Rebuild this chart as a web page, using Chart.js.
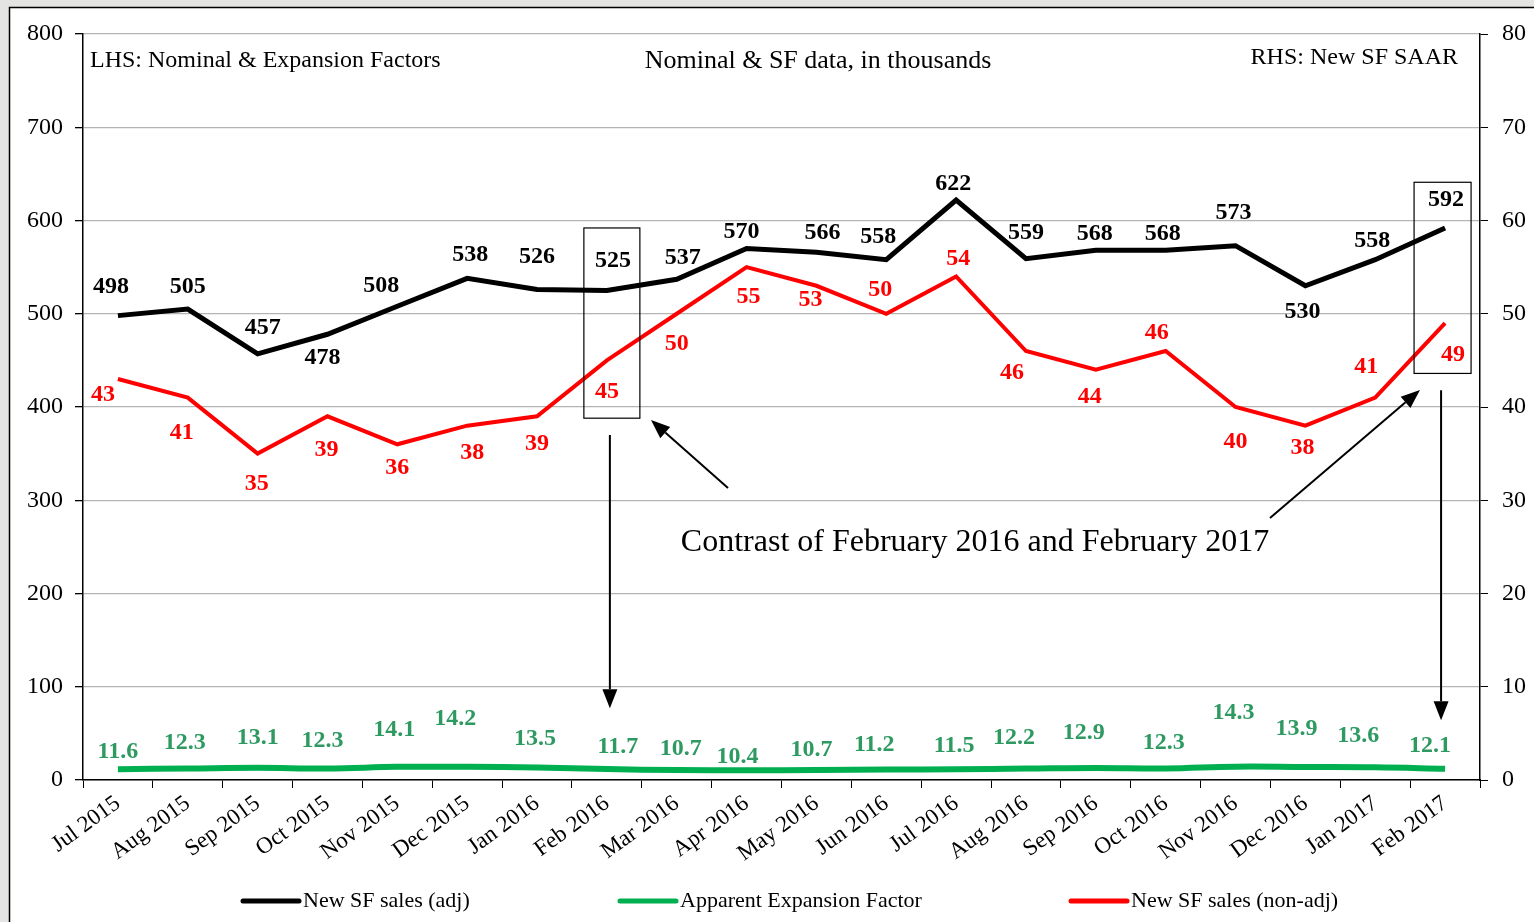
<!DOCTYPE html>
<html lang="en">
<head>
    <meta charset="UTF-8">
    <title>New SF sales</title>
    <script src="https://cdn.jsdelivr.net/npm/chart.js"></script>
    <style>
        html, body { margin: 0; padding: 0; background: #e4e4e2; }
        #wrap { position: relative; width: 1534px; height: 922px; }
    </style>
</head>
<body>
<div id="wrap"><canvas id="chart" width="1534" height="922"></canvas></div>
<script>
    // data
    const months = ['Jul 2015', 'Aug 2015', 'Sep 2015', 'Oct 2015', 'Nov 2015', 'Dec 2015', 'Jan 2016',
        'Feb 2016', 'Mar 2016', 'Apr 2016', 'May 2016', 'Jun 2016', 'Jul 2016', 'Aug 2016', 'Sep 2016',
        'Oct 2016', 'Nov 2016', 'Dec 2016', 'Jan 2017', 'Feb 2017'];
    const salesAdj = [498, 505, 457, 478, 508, 538, 526, 525, 537, 570, 566, 558, 622, 559, 568, 568, 573, 530, 558, 592];
    const expansion = [11.6, 12.3, 13.1, 12.3, 14.1, 14.2, 13.5, 11.7, 10.7, 10.4, 10.7, 11.2, 11.5, 12.2, 12.9, 12.3, 14.3, 13.9, 13.6, 12.1];
    const salesNonAdj = [43, 41, 35, 39, 36, 38, 39, 45, 50, 55, 53, 50, 54, 46, 44, 46, 40, 38, 41, 49];

    // label offsets [dx, dy] from each point
    const offAdj = [[-7,-29],[0,-22],[5,-26],[-5,24],[-16,-20],[3,-24],[0,-33],[6,-30],[6,-21],[-5,-17],
        [6,-19],[-8,-23],[-3,-16],[0,-26],[-1,-17],[-3,-17],[-2,-33],[-3,26],[-3,-19],[1,-28]];
    const offNonAdj = [[-15,16],[-6,35],[-1,30],[-1,33],[0,23],[5,27],[0,27],[0,31],[0,30],[2,30],
        [-6,14],[-6,-24],[2,-18],[-14,22],[-6,27],[-9,-18],[0,35],[-3,22],[-9,-31],[8,32]];
    const offExp = [[0,-17],[-3,-26],[0,-30],[-5,-28],[-3,-37],[-12,-48],[-2,-29],[11,-22],[4,-21],[-9,-14],
        [-5,-20],[-12,-25],[-2,-23],[-12,-31],[-12,-35],[-2,-26],[-2,-54],[-9,-38],[-17,-32],[-15,-23]];

    const serif = "'Liberation Serif', 'Times New Roman', serif";

    const framePlugin = {
        id: 'frame',
        beforeDraw(chart) {
            const c = chart.ctx;
            c.save();
            c.fillStyle = '#e4e4e2';
            c.fillRect(0, 0, chart.width, chart.height);
            c.fillStyle = '#ffffff';
            c.fillRect(9, 7, chart.width, chart.height);
            c.strokeStyle = '#000';
            c.lineWidth = 1.5;
            c.strokeRect(9.5, 7.5, chart.width + 10, chart.height + 10);
            c.restore();
        }
    };

    function arrow(c, x1, y1, x2, y2) {
        const a = Math.atan2(y2 - y1, x2 - x1);
        const len = 19, w = 7.5;
        const bx = x2 - len * Math.cos(a), by = y2 - len * Math.sin(a);
        c.beginPath();
        c.moveTo(x1, y1);
        c.lineTo(bx, by);
        c.stroke();
        c.beginPath();
        c.moveTo(x2, y2);
        c.lineTo(bx + w * Math.sin(a), by - w * Math.cos(a));
        c.lineTo(bx - w * Math.sin(a), by + w * Math.cos(a));
        c.closePath();
        c.fill();
    }

    const labelPlugin = {
        id: 'labels',
        afterDatasetsDraw(chart) {
            const c = chart.ctx;
            const sets = [
                { idx: 0, vals: salesAdj, off: offAdj, color: '#000', fmt: v => String(v) },
                { idx: 1, vals: expansion, off: offExp, color: '#2e9a62', fmt: v => v.toFixed(1) },
                { idx: 2, vals: salesNonAdj, off: offNonAdj, color: '#ff0000', fmt: v => String(v) }
            ];
            c.save();
            c.font = 'bold 24px ' + serif;
            c.textAlign = 'center';
            c.textBaseline = 'middle';
            sets.forEach(s => {
                const meta = chart.getDatasetMeta(s.idx);
                c.fillStyle = s.color;
                meta.data.forEach((pt, i) => {
                    c.fillText(s.fmt(s.vals[i]), pt.x + s.off[i][0], pt.y + s.off[i][1]);
                });
            });

            // header texts
            c.fillStyle = '#000';
            c.font = '24px ' + serif;
            c.textAlign = 'left';
            c.fillText('LHS: Nominal & Expansion Factors', 90, 61);
            c.textAlign = 'right';
            c.fillText('RHS: New SF SAAR', 1458, 58);
            c.font = '26px ' + serif;
            c.textAlign = 'center';
            c.fillText('Nominal & SF data, in thousands', 818, 61);

            // annotation boxes and arrows
            const x = chart.scales.x, y = chart.scales.y;
            const i16 = months.indexOf('Feb 2016'), i17 = months.indexOf('Feb 2017');
            const x16 = x.getPixelForValue(i16), x17 = x.getPixelForValue(i17);
            c.strokeStyle = '#000';
            c.lineWidth = 1.2;
            c.strokeRect(x16 - 23, y.getPixelForValue(592), 56, y.getPixelForValue(388) - y.getPixelForValue(592));
            c.strokeRect(x17 - 31, y.getPixelForValue(641), 57, y.getPixelForValue(436) - y.getPixelForValue(641));
            c.lineWidth = 2;
            c.fillStyle = '#000';
            arrow(c, x16 + 3, y.getPixelForValue(370), x16 + 3, y.getPixelForValue(77));
            arrow(c, x17 - 4, y.getPixelForValue(418), x17 - 4, y.getPixelForValue(64));
            arrow(c, 728, 488, 651, 420);
            arrow(c, 1270, 518, 1420, 390);
            c.font = '32px ' + serif;
            c.textAlign = 'center';
            c.fillText('Contrast of February 2016 and February 2017', 975, 543);

            // legend
            const items = [
                { x: 243, color: '#000', text: 'New SF sales (adj)' },
                { x: 620, color: '#00b050', text: 'Apparent Expansion Factor' },
                { x: 1071, color: '#ff0000', text: 'New SF sales (non-adj)' }
            ];
            c.font = '22px ' + serif;
            c.textAlign = 'left';
            c.lineCap = 'round';
            items.forEach(it => {
                c.strokeStyle = it.color;
                c.lineWidth = 5;
                c.beginPath();
                c.moveTo(it.x, 901);
                c.lineTo(it.x + 56, 901);
                c.stroke();
                c.fillStyle = '#000';
                c.fillText(it.text, it.x + 60, 901);
            });
            c.restore();
        }
    };

    const ctx = document.getElementById('chart').getContext('2d');
    new Chart(ctx, {
        type: 'line',
        data: {
            labels: months,
            datasets: [
                { label: 'New SF sales (adj)', data: salesAdj, yAxisID: 'y', borderColor: '#000', borderWidth: 5, pointRadius: 0, tension: 0 },
                { label: 'Apparent Expansion Factor', data: expansion, yAxisID: 'y', borderColor: '#00b050', borderWidth: 6, pointRadius: 0, tension: 0.4 },
                { label: 'New SF sales (non-adj)', data: salesNonAdj, yAxisID: 'y1', borderColor: '#ff0000', borderWidth: 4, pointRadius: 0, tension: 0 }
            ]
        },
        options: {
            responsive: false,
            animation: false,
            layout: { padding: { top: 34, left: 0, right: 0, bottom: 0 } },
            plugins: { legend: { display: false }, tooltip: { enabled: false } },
            scales: {
                x: {
                    offset: true,
                    grid: { display: true, drawOnChartArea: false, offset: true, tickLength: 8, tickColor: '#000' },
                    border: { color: '#000', width: 1.5 },
                    ticks: { maxRotation: 36, minRotation: 36, autoSkip: false, color: '#000', font: { family: serif, size: 23 }, padding: 2 },
                    afterFit(s) { s.height = 142; }
                },
                y: {
                    position: 'left',
                    min: 0, max: 800,
                    grid: { color: '#b4b4b4', lineWidth: 1.3, tickLength: 8, tickColor: '#000' },
                    border: { color: '#000', width: 1.5 },
                    ticks: { stepSize: 100, color: '#000', font: { family: serif, size: 24 }, padding: 12 },
                    afterFit(s) { s.width = 83; }
                },
                y1: {
                    position: 'right',
                    min: 0, max: 80,
                    grid: { drawOnChartArea: false, tickLength: 8, tickColor: '#000' },
                    border: { color: '#000', width: 1.5 },
                    ticks: { stepSize: 10, color: '#000', font: { family: serif, size: 24 }, padding: 14 },
                    afterFit(s) { s.width = 54; }
                }
            }
        },
        plugins: [framePlugin, labelPlugin]
    });
</script>
</body>
</html>
